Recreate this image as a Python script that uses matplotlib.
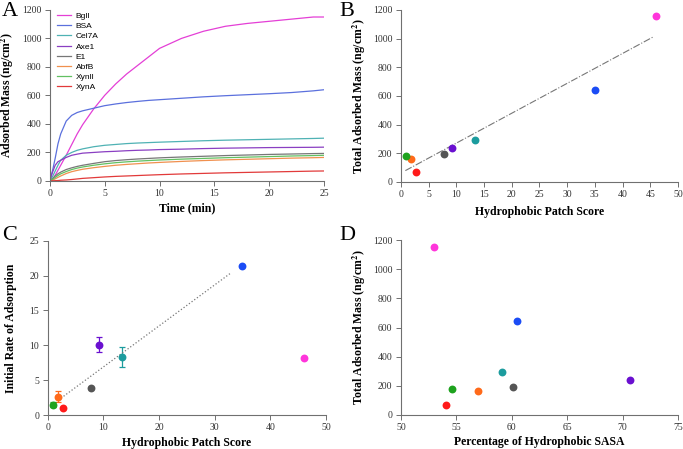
import numpy as np
import matplotlib
matplotlib.use("Agg")
from matplotlib import pyplot as plt

plt.rcParams['font.family'] = ['Liberation Serif', 'DejaVu Serif']
plt.rcParams['mathtext.fontset'] = 'stix'

# proteins / colours
proteins = ["BglI", "BSA", "Cel7A", "Axe1", "E1", "AbfB", "XynII", "XynA"]
legend_labels = ["Bgll", "BSA", "Cel7A", "Axe1", "E1", "AbfB", "Xynll", "XynA"]
line_colors = ["#e43fd6", "#5b70dd", "#4fb2b4", "#8a3fc2", "#777777", "#f0904f", "#62c062", "#e23a3a"]
dot_colors = ["#ff35db", "#1b4cf5", "#1c9c9e", "#6a10d0", "#555555", "#ff6a1a", "#1ea21e", "#ff1a1a"]

# panel A : adsorption kinetics
t = [0, 0.25, 0.5, 0.75, 1, 1.5, 2, 2.5, 3, 4, 5, 6, 7, 8, 9, 10, 12, 14, 16, 18, 20, 22, 24, 25]
mass = {
    "BglI":  [0, 10, 40, 75, 110, 180, 255, 330, 395, 505, 600, 680, 750, 810, 870, 930, 1000, 1050, 1085, 1105, 1120, 1135, 1150, 1150],
    "BSA":   [0, 70, 160, 260, 330, 420, 460, 480, 492, 510, 528, 540, 550, 558, 565, 570, 580, 590, 598, 605, 612, 620, 632, 640],
    "Cel7A": [0, 30, 70, 110, 145, 180, 200, 215, 225, 240, 250, 256, 262, 266, 269, 272, 277, 282, 286, 289, 292, 295, 298, 300],
    "Axe1":  [0, 60, 110, 135, 145, 165, 180, 188, 195, 200, 205, 208, 212, 215, 217, 220, 223, 227, 230, 232, 234, 235, 236, 237],
    "E1":    [0, 15, 35, 50, 62, 80, 92, 102, 110, 123, 135, 143, 149, 154, 158, 162, 168, 173, 178, 182, 186, 189, 192, 193],
    "AbfB":  [0, 5, 15, 25, 35, 52, 65, 74, 82, 93, 102, 110, 116, 121, 126, 130, 137, 143, 148, 152, 156, 160, 163, 165],
    "XynII": [0, 10, 25, 38, 50, 66, 80, 90, 98, 110, 120, 128, 134, 139, 143, 147, 153, 158, 163, 167, 171, 175, 178, 180],
    "XynA":  [0, 1, 2, 3, 5, 7, 10, 14, 18, 23, 28, 32, 35, 38, 41, 44, 49, 53, 57, 60, 63, 66, 69, 70],
}

# panels B-D : per protein values
patch_score = [46.0, 35.0, 13.3, 9.2, 7.7, 1.9, 0.9, 2.8]
total_mass = [1155, 643, 293, 237, 193, 163, 180, 70]
init_rate = [8.2, 21.3, 8.3, 10.1, 3.9, 2.6, 1.5, 1.0]
init_rate_err = [0, 0, 1.4, 1.1, 0, 0.8, 0.3, 0]
sasa = [53.0, 60.5, 59.1, 70.7, 60.1, 57.0, 54.6, 54.1]

fig = plt.figure(figsize=(6.83, 4.49), dpi=100)

axA = fig.add_axes([0.0728, 0.597, 0.402, 0.381])
axB = fig.add_axes([0.587, 0.5947, 0.4056, 0.3833])
axC = fig.add_axes([0.0698, 0.0757, 0.4075, 0.3883])
axD = fig.add_axes([0.587, 0.0764, 0.4056, 0.3884])

def style(ax):
    for s in ["top", "right"]:
        ax.spines[s].set_visible(False)
    for s in ["left", "bottom"]:
        ax.spines[s].set_color("#707070")
        ax.spines[s].set_linewidth(0.8)
    ax.tick_params(direction="out", length=3.5, width=0.7, color="#707070",
                   labelsize=7, labelcolor="#333333", pad=2.5)

ylab_mass = r"Adsorbed Mass (ng/cm$^{\mathbf{2}}$)"
ylab_total = r"Total Adsorbed Mass (ng/cm$^{\mathbf{2}}$)"
lab_kw = dict(fontsize=8.5, fontweight="bold")

# A
for p, lab, c in zip(proteins, legend_labels, line_colors):
    axA.plot(t, mass[p], color=c, lw=0.9, label=lab)
axA.set_xlim(0, 25)
axA.set_ylim(0, 1200)
axA.set_xticks(np.arange(0, 26, 5))
axA.set_yticks(np.arange(0, 1201, 200))
axA.set_xlabel("Time (min)", labelpad=3, **lab_kw)
axA.set_ylabel(ylab_mass, labelpad=4, **lab_kw)
leg = axA.legend(loc="upper left", bbox_to_anchor=(0.0, 1.03), frameon=False,
                 prop={"family": "Liberation Sans", "size": 6},
                 handlelength=1.7, labelspacing=0.28, handletextpad=0.5)
style(axA)

# B
for x, y, c in zip(patch_score, total_mass, dot_colors):
    axB.scatter(x, y, s=32, color=c, zorder=3, linewidths=0)
kB = np.polyfit(patch_score, total_mass, 1)
xB = np.array([min(patch_score) - 0.1, max(patch_score) - 0.5])
axB.plot(xB, np.polyval(kB, xB), ls="-.", color="#777777", lw=0.8, zorder=2)
axB.set_xlim(0, 50)
axB.set_ylim(0, 1200)
axB.set_xticks(np.arange(0, 51, 5))
axB.set_yticks(np.arange(0, 1201, 200))
axB.set_xlabel("Hydrophobic Patch Score", labelpad=5, **lab_kw)
axB.set_ylabel(ylab_total, labelpad=4, **lab_kw)
style(axB)

# C
for x, y, e, c in zip(patch_score, init_rate, init_rate_err, dot_colors):
    if e > 0:
        axC.errorbar(x, y, yerr=e, fmt="none", ecolor=c, elinewidth=0.9, capsize=2.5, capthick=0.9, zorder=2)
    axC.scatter(x, y, s=32, color=c, zorder=3, linewidths=0)
# fit without the BglI outlier
kC = np.polyfit(patch_score[1:], init_rate[1:], 1)
xC = np.array([1.9, 33.0])
axC.plot(xC, np.polyval(kC, xC), ls=":", color="#777777", lw=0.9, zorder=2)
axC.set_xlim(0, 50)
axC.set_ylim(0, 25)
axC.set_xticks(np.arange(0, 51, 10))
axC.set_yticks(np.arange(0, 26, 5))
axC.set_xlabel("Hydrophobic Patch Score", labelpad=3, **lab_kw)
axC.set_ylabel("Initial Rate of Adsorption", labelpad=9, **lab_kw)
style(axC)

# D
for x, y, c in zip(sasa, total_mass, dot_colors):
    axD.scatter(x, y, s=32, color=c, zorder=3, linewidths=0)
axD.set_xlim(50, 75)
axD.set_ylim(0, 1200)
axD.set_xticks(np.arange(50, 76, 5))
axD.set_yticks(np.arange(0, 1201, 200))
axD.set_xlabel("Percentage of Hydrophobic SASA", labelpad=3, **lab_kw)
axD.set_ylabel(ylab_total, labelpad=4, **lab_kw)
style(axD)

# panel letters
for txt, x, y in [("A", 0.003, 0.995), ("B", 0.497, 0.995), ("C", 0.003, 0.497), ("D", 0.497, 0.497)]:
    fig.text(x, y, txt, fontsize=16, va="top", ha="left")

fig.savefig("out.png", dpi=100)
